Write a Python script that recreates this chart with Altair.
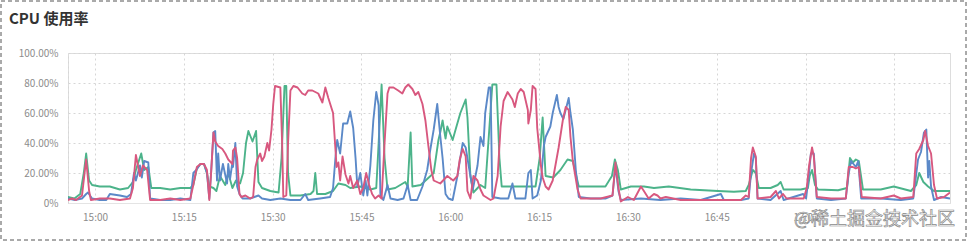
import altair as alt
import pandas as pd

TITLE = "CPU 使用率"
WATERMARK = "@稀土掘金技术社区"

# time in minutes after 14:00, CPU usage in %
green_min = [55.4, 56.5, 57.5, 58.1, 58.5, 59.0, 59.5, 60.8, 62.5, 64.2, 65.6, 66.4, 66.9, 67.8, 68.3, 69.0, 69.5,
             71.0, 72.7, 74.4, 76.1, 76.6, 77.2, 77.8, 78.4, 78.9, 79.3, 80.0, 80.5, 81.1, 82.0, 82.5, 83.2, 83.8,
             84.5, 85.0, 85.5, 85.9, 86.6, 87.2, 87.6, 88.2, 89.6, 91.0, 91.5, 92.0, 92.3, 92.6, 93.0, 94.7, 96.4,
             96.9, 97.2, 97.5, 98.9, 100.2, 101.1, 102.3, 103.1, 104.8, 106.5, 107.5, 107.9, 108.4, 108.9, 109.4,
             110.7, 112.4, 112.8, 113.3, 113.6, 115.0, 116.1, 117.2, 118.0, 118.3, 118.7, 119.2, 119.5, 120.4,
             120.9, 121.7, 122.6, 122.9, 123.4, 123.9, 125.1, 125.9, 126.6, 127.1, 127.8, 128.3, 128.7, 131.9,
             134.4, 135.1, 135.6, 136.1, 137.4, 138.6, 139.8, 140.7, 141.7, 143.7, 146.2, 147.3, 147.8, 148.3,
             148.8, 150.5, 152.7, 154.4, 156.9, 160.6, 165.2, 167.9, 169.9, 170.4, 171.1, 171.6, 172.1, 174.1,
             175.3, 175.8, 176.3, 179.2, 180.4, 180.7, 181.1, 181.6, 182.1, 185.5, 187.0, 187.5, 188.0, 188.5,
             189.0, 189.7, 192.7, 194.9, 197.8, 198.7, 199.2, 199.9, 200.7, 201.7, 204.4]
green_val = [4, 3, 6, 20, 33, 15, 12, 11, 11, 9, 10, 14, 22, 33, 22, 24, 10,
             10, 9, 10, 10, 12, 23, 26, 26, 20, 11, 10, 8, 18, 12, 20, 10, 15,
             13, 20, 40, 48, 41, 48, 14, 10, 8, 7, 30, 78, 78, 20, 5, 5, 6,
             8, 20, 6, 6, 8, 13, 12, 10, 11, 9, 10, 40, 79, 30, 9,
             10, 14, 11, 47, 11, 12, 16, 20, 42, 47, 55, 43, 51, 42,
             49, 60, 69, 57, 18, 7, 12, 10, 50, 79, 79, 30, 11, 11,
             11, 30, 57, 18, 17, 22, 29, 28, 11, 11, 11, 18, 29, 22,
             9, 11, 11, 10, 11, 9, 8, 7.5, 8, 12, 22, 20, 10, 10,
             12, 14, 9, 9, 10, 18, 22, 12, 9, 8.5, 10, 30, 27, 29,
             28, 9, 9, 11, 8, 12, 20, 14, 11, 8, 8]

blue_min = [55.4, 56.6, 57.8, 58.5, 58.8, 59.5, 60.8, 61.9, 62.5, 64.2, 65.4, 66.1, 66.6, 66.9, 67.6, 67.9, 68.3,
            69.0, 69.3, 71.0, 72.7, 74.4, 76.1, 76.6, 77.1, 77.8, 78.4, 78.9, 79.3, 79.6, 80.0, 80.3, 80.6, 80.8,
            81.1, 81.6, 82.3, 82.5, 82.8, 83.2, 83.3, 83.7, 84.0, 84.4, 84.9, 86.2, 87.6, 88.2, 89.6, 91.3, 93.0,
            94.7, 95.5, 96.0, 98.0, 99.7, 100.2, 100.6, 100.9, 101.4, 101.9, 102.6, 103.1, 103.6, 104.0, 104.3,
            104.8, 105.3, 105.7, 106.0, 106.5, 107.0, 107.5, 107.9, 108.2, 108.7, 109.4, 109.9, 111.1, 112.1,
            112.8, 113.3, 114.4, 115.3, 116.1, 116.6, 117.2, 117.8, 118.3, 118.7, 119.2, 119.7, 120.4, 121.2,
            122.1, 122.6, 123.1, 123.8, 124.6, 125.1, 125.6, 125.9, 126.5, 126.8, 127.1, 128.5, 129.8, 130.5,
            131.0, 132.7, 133.2, 133.6, 133.9, 134.7, 135.3, 135.8, 136.1, 136.9, 137.3, 138.0, 138.3, 138.6,
            139.1, 140.0, 140.3, 140.7, 141.2, 141.7, 143.7, 146.2, 147.4, 147.9, 148.4, 148.8, 152.2, 155.5,
            158.9, 162.3, 165.7, 166.2, 169.1, 170.4, 170.8, 171.3, 171.6, 171.9, 174.1, 175.8, 176.3, 179.6,
            180.1, 180.6, 180.9, 181.4, 181.9, 184.3, 186.8, 187.3, 187.7, 188.5, 188.9, 189.4, 192.7, 196.1,
            198.2, 199.0, 199.5, 200.0, 200.4, 200.7, 200.9, 201.2, 201.7, 202.9, 204.4]
blue_val = [3, 2, 3, 6, 7, 3, 2, 2, 6, 5, 4, 6, 20, 15, 25, 17, 28,
            27, 3, 2, 2, 3, 2, 20, 22, 26, 26, 20, 3, 20, 47, 48, 15, 33,
            15, 26, 13, 26, 16, 27, 24, 40, 11, 6, 3, 3, 5, 3, 2, 3, 2,
            2, 6, 2, 3, 4, 10, 30, 42, 33, 53, 53, 61, 50, 30, 11,
            20, 5, 15, 5, 25, 55, 74, 65, 5, 2, 12, 3, 2, 3,
            12, 2, 2, 11, 22, 35, 49, 66, 45, 30, 6, 3, 2, 18,
            40, 37, 25, 9, 25, 44, 38, 60, 77, 77, 4, 3, 3, 13,
            3, 3, 20, 22, 3, 5, 15, 38, 44, 51, 60, 72, 64, 60,
            56, 70, 60, 49, 22, 4, 3, 3, 5, 25, 8, 2, 3, 2,
            3, 2, 6, 2, 2, 3, 20, 33, 30, 3, 2, 8, 2, 6,
            3, 20, 33, 33, 3, 2, 3, 20, 28, 24, 28, 3, 3, 2,
            3, 29, 34, 47, 49, 17, 28, 11, 2, 4, 3]

pink_min = [55.4, 56.1, 56.8, 57.8, 58.5, 59.0, 59.3, 60.8, 62.5, 64.2, 65.9, 66.4, 66.9, 67.6, 68.1, 68.8, 69.3,
            71.0, 72.7, 74.4, 76.1, 76.6, 77.2, 77.8, 78.4, 78.9, 79.3, 79.6, 80.0, 80.3, 80.8, 81.5, 82.0, 82.5,
            83.2, 83.3, 83.7, 84.0, 84.4, 84.7, 85.4, 86.2, 86.7, 87.1, 87.4, 87.9, 88.2, 88.6, 89.1, 89.4, 89.8,
            90.1, 90.4, 91.3, 91.6, 91.8, 92.3, 92.6, 93.0, 93.5, 94.2, 95.0, 95.5, 96.0, 96.7, 97.2, 97.7, 98.4,
            98.9, 99.4, 100.2, 100.8, 101.1, 101.4, 101.8, 102.3, 102.8, 103.1, 103.6, 104.3, 104.8, 105.3,
            105.8, 106.3, 106.8, 107.3, 107.9, 108.4, 108.9, 109.4, 109.7, 110.4, 111.2, 111.9, 112.4, 112.9,
            113.6, 114.1, 114.6, 115.3, 115.8, 116.3, 116.8, 117.2, 118.3, 119.5, 120.5, 121.2, 121.6, 122.1,
            122.6, 122.9, 123.4, 123.9, 124.6, 125.1, 125.6, 126.8, 127.3, 128.0, 128.5, 129.0, 129.7, 130.5,
            130.9, 131.4, 131.9, 132.4, 133.1, 133.2, 133.6, 133.9, 134.4, 134.7, 135.3, 135.6, 136.1, 136.6,
            137.3, 137.8, 138.3, 139.0, 139.5, 140.0, 140.3, 140.7, 141.5, 142.0, 143.7, 145.4, 147.4, 147.9,
            148.4, 148.8, 150.0, 151.0, 152.2, 152.7, 153.5, 154.4, 155.0, 155.5, 156.4, 158.9, 162.3, 165.7,
            169.1, 169.9, 170.4, 170.8, 171.1, 171.6, 171.9, 174.1, 175.0, 175.5, 176.2, 176.8, 179.7, 180.2,
            180.6, 181.1, 181.4, 181.9, 184.3, 186.8, 187.3, 188.0, 188.5, 189.0, 189.5, 192.7, 194.9, 196.1,
            198.2, 198.7, 199.2, 199.9, 200.2, 200.7, 201.2, 201.7, 202.2, 203.4, 204.4]
pink_val = [2, 3, 2, 5, 29, 8, 2, 3, 3, 2, 3, 10, 32, 18, 25, 22, 2,
            2, 3, 2, 3, 12, 24, 26, 26, 22, 2, 20, 47, 41, 38, 36, 33, 29,
            26, 35, 37, 30, 6, 4, 5, 3, 4, 24, 29, 33, 28, 31, 40, 35, 49,
            66, 78, 77, 40, 4, 5, 40, 75, 78, 77, 73, 72, 75, 75, 74, 73, 67,
            77, 70, 60, 24, 27, 15, 31, 19, 13, 18, 10, 15, 6, 10,
            20, 12, 6, 3, 5, 3, 40, 73, 77, 77, 75, 73, 77, 79,
            76, 72, 74, 66, 55, 38, 22, 15, 13, 18, 15, 18, 29, 36,
            31, 8, 3, 18, 15, 9, 5, 2, 3, 18, 51, 68, 74, 69,
            64, 73, 76, 74, 62, 53, 62, 78, 76, 50, 25, 17, 11, 9,
            15, 26, 37, 55, 64, 62, 44, 28, 9, 3, 3, 3, 5, 27,
            10, 1, 4, 2, 11, 8, 3, 6, 5, 3, 4, 2, 2, 2,
            2, 5, 4, 30, 37, 31, 3, 4, 8, 3, 6, 3, 3, 10,
            25, 37, 31, 4, 3, 3, 24, 24, 23, 24, 4, 3, 5, 3,
            4, 33, 36, 42, 48, 38, 33, 12, 3, 4, 7]

series_names = ["green", "blue", "pink"]
series_colors = ["#4cb38a", "#5b89c8", "#d8587f"]

x_tick_labels = ["15:00", "15:15", "15:30", "15:45", "16:00", "16:15", "16:30", "16:45", "17:00", "17:15"]
y_ticks = [0, 20, 40, 60, 80, 100]
x_start = "14:55:26"
x_end = "17:24:24"

base_time = pd.Timestamp("2024-01-01 14:00:00")


def to_iso(mins):
    return [(base_time + pd.Timedelta(minutes=m)).strftime("%Y-%m-%dT%H:%M:%S") for m in mins]


def to_dt(hms):
    parts = [int(p) for p in hms.split(":")]
    while len(parts) < 3:
        parts.append(0)
    return alt.DateTime(year=2024, month=1, date=1, hours=parts[0], minutes=parts[1], seconds=parts[2])


frames = []
for name, mins, vals in [("green", green_min, green_val), ("blue", blue_min, blue_val), ("pink", pink_min, pink_val)]:
    frames.append(pd.DataFrame({"series": name, "time": to_iso(mins), "value": vals}))
df = pd.concat(frames, ignore_index=True)

FONT = "Noto Sans CJK SC"

x_axis = alt.Axis(
    values=[to_dt(t) for t in x_tick_labels], format="%H:%M", title=None,
    grid=True, gridDash=[2, 3], gridColor="#d6d6d6", gridWidth=1,
    ticks=False, tickSize=0, domain=True, domainColor="#e4e4e4",
    labelFont=FONT, labelFontSize=10, labelColor="#8c8c8c", labelPadding=9,
)
y_axis = alt.Axis(
    values=y_ticks, title=None,
    labelExpr="datum.value == 0 ? '0%' : format(datum.value, '.2f') + '%'",
    grid=True, gridDash=[2, 3], gridColor="#d6d6d6", gridWidth=1,
    ticks=False, tickSize=0, domain=True, domainDash=[2, 3], domainColor="#d6d6d6",
    labelFont=FONT, labelFontSize=10, labelColor="#8c8c8c", labelPadding=10,
)

base = alt.Chart(df).encode(
    x=alt.X("time:T", scale=alt.Scale(domain=[to_dt(x_start), to_dt(x_end)]), axis=x_axis),
    y=alt.Y("value:Q", scale=alt.Scale(domain=[0, 100]), axis=y_axis),
)

layers = []
for name, color in zip(series_names, series_colors):
    layers.append(
        base.transform_filter(alt.datum.series == name)
        .mark_line(color=color, strokeWidth=1.9, clip=True, strokeJoin="round")
    )

one = pd.DataFrame({"k": [0]})
border = alt.Chart(one).mark_rect(
    fill="transparent", stroke="#555555", strokeWidth=1, strokeDash=[4, 3]
).encode(x=alt.value(-67), x2=alt.value(898), y=alt.value(-52), y2=alt.value(187))

title_text = alt.Chart(one).mark_text(
    text=TITLE, align="left", baseline="middle", font=FONT, fontSize=15, fontWeight=600,
    color="#333333",
).encode(x=alt.value(-59), y=alt.value(-34))

watermark = alt.Chart(one).mark_text(
    text=WATERMARK, align="right", baseline="middle", font=FONT, fontSize=18,
    fill="#ffffff", stroke="#8a8a8a", strokeWidth=0.7,
).encode(x=alt.value(887), y=alt.value(167))

chart = alt.layer(*layers, border, title_text, watermark).properties(
    width=882, height=150,
    padding={"left": 68, "top": 53, "right": 18, "bottom": 39},
    autosize=alt.AutoSizeParams(type="none"),
).configure_view(stroke=None).configure(background="#ffffff")

chart.save("out.html", embed_options={"renderer": "svg", "actions": False})
